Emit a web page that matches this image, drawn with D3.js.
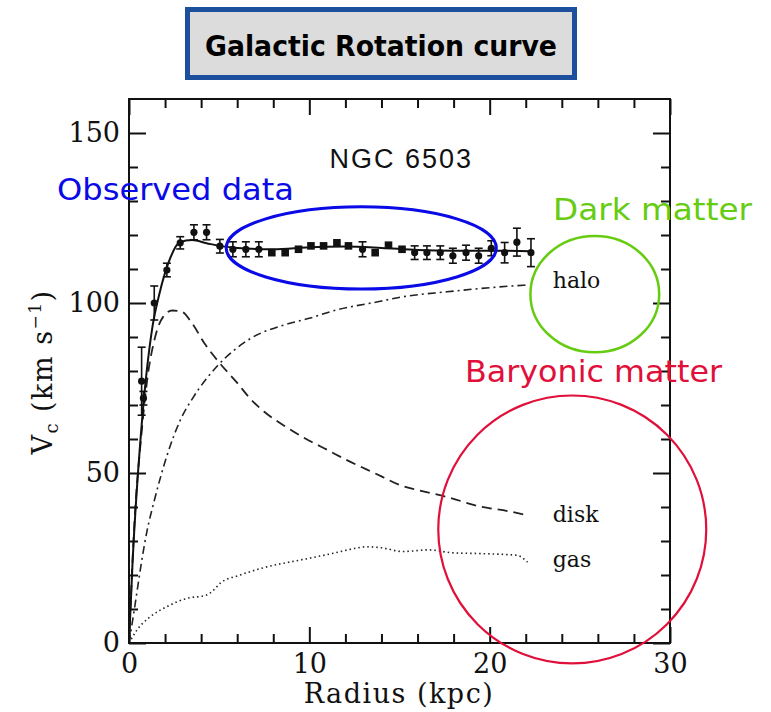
<html>
  <head>
    <meta charset="utf-8"/>
    <style>
      body { margin: 0; background: #fff; }
      .tick text { font-family: "DejaVu Serif", serif; font-size: 27px; fill: #111; }
      .tick line { stroke: #111; stroke-width: 2; }
      .note { font-family: "Comic Sans MS", "DejaVu Sans", sans-serif; }
    </style>
  </head>
  <body>
    <svg></svg>
  </body>
  <script src="https://d3js.org/d3.v7.min.js"></script>
  <script>
  // observed rotation curve (NGC 6503)
  var radius   = [0.7, 0.8, 1.4, 2.1, 2.84, 3.6, 4.3, 5.04, 5.76, 6.48, 7.2, 7.92, 8.66, 9.4, 10.09, 10.79, 11.53, 12.17, 12.95, 13.65, 14.39, 15.14, 15.84, 16.52, 17.26, 17.96, 18.69, 19.39, 20.09, 20.83, 21.51, 22.29];
  var velocity = [77, 72, 100, 109.7, 117.7, 120.8, 120.8, 116.7, 115.8, 115.8, 115.8, 114.8, 114.8, 115.8, 116.8, 116.8, 117.7, 116.8, 115.8, 114.8, 117, 115.8, 114.8, 114.8, 114.8, 113.9, 114.8, 113.9, 116.1, 114.8, 117.9, 114.8];
  var errors   = [10, 2, 5, 2, 1.8, 2.2, 2.2, 2, 2.2, 2.2, 2.2, 0, 0, 0, 0, 0, 0, 0, 2.2, 0, 0, 0, 2, 2, 2, 2.2, 2.2, 2.2, 2.2, 3, 4.1, 4.1];
  var symbols  = ["c","c","c","c","c","c","c","c","c","c","c","s","s","s","s","s","s","s","c","s","s","s","c","c","c","c","c","c","c","c","c","c"];

  // model curves [radius, velocity]
  var total = [[0,0],[0.2,24],[0.7,64],[1.3,93],[1.7,103],[2.2,112],[2.8,117.8],[3.5,118.5],[4.3,117.6],[5.0,116.8],[6,116.2],[8,115.8],[10,116.4],[12,116.6],[14,116.2],[16,115.6],[18,115.4],[20,115.4],[22.3,115.2]];
  var disk  = [[0,0],[0.3,35],[0.7,62],[1.0,77],[1.45,90],[1.9,96],[2.4,97.8],[2.9,97.5],[3.5,94],[4.2,88],[5,82.5],[6,76.5],[6.7,72],[7.5,68],[8.7,63.6],[10,59.5],[11,56.8],[12,54],[13.2,51],[14,49],[15,46.5],[16,45],[17.6,43],[19.5,40.1],[21,38.8],[21.9,37.8]];
  var halo  = [[0,0],[0.3,10],[0.67,23],[1.0,33],[1.36,41],[2.1,55],[2.84,65.5],[3.58,72.4],[4.87,81.3],[6.72,89.5],[8.57,93.5],[10,95.5],[11.34,97.7],[13.93,100.5],[15.04,101.7],[17.63,103.3],[20,104.5],[22.06,105.3]];
  var gas   = [[0,0],[0.44,3.8],[1.17,7.7],[2.1,10.7],[3.2,13.1],[4.3,14.1],[4.7,15.6],[5.06,17.6],[6.17,20],[7.65,22.4],[9.5,24.4],[11.34,26.4],[12.5,27.8],[13.2,28.3],[14,28],[15.2,26.9],[16.6,27.4],[18,26.5],[19.5,26.3],[21.5,25.8],[22.1,23.8]];

  var xMajor = [0, 10, 20, 30];
  var xMinor = [2, 4, 6, 8, 12, 14, 16, 18, 22, 24, 26, 28];
  var yMajor = [0, 50, 100, 150];
  var yMinor = [10, 20, 30, 40, 60, 70, 80, 90, 110, 120, 130, 140];

  var W = 771, H = 712;
  var svg = d3.select("svg").attr("width", W).attr("height", H);

  var x = d3.scaleLinear().domain([0, 30]).range([129, 670]);
  var y = d3.scaleLinear().domain([0, 160]).range([643, 99]);

  // title box
  svg.append("rect")
    .attr("x", 187.5).attr("y", 9.5).attr("width", 387).attr("height", 68)
    .attr("fill", "#dcdcdc").attr("stroke", "#1c4f9c").attr("stroke-width", 5);
  svg.append("text").attr("class", "note")
    .attr("x", 381).attr("y", 56).attr("text-anchor", "middle")
    .attr("font-size", 28).attr("font-weight", "bold")
    .attr("textLength", 352).attr("lengthAdjust", "spacingAndGlyphs")
    .text("Galactic Rotation curve");

  // axes (ticks pointing inward on all four sides)
  function ax(gen, tr, vals, len, labels) {
    var g = svg.append("g").attr("transform", tr)
      .call(gen.tickValues(vals).tickSize(-len).tickSizeOuter(0)
        .tickPadding(labels ? 11 : 0).tickFormat(labels ? d3.format("d") : ""));
    g.select(".domain").remove();
    return g;
  }
  ax(d3.axisBottom(x), "translate(0,643)", xMajor, 16, true);
  ax(d3.axisBottom(x), "translate(0,643)", xMinor, 9, false);
  ax(d3.axisTop(x), "translate(0,99)", xMajor, 16, false);
  ax(d3.axisTop(x), "translate(0,99)", xMinor, 9, false);
  var yl = ax(d3.axisLeft(y), "translate(129,0)", yMajor, 17, true);
  yl.selectAll("text").attr("dx", 2);
  ax(d3.axisLeft(y), "translate(129,0)", yMinor, 9, false);
  ax(d3.axisRight(y), "translate(670,0)", yMajor, 17, false);
  ax(d3.axisRight(y), "translate(670,0)", yMinor, 9, false);

  svg.append("rect")
    .attr("x", x(0)).attr("y", y(160))
    .attr("width", x(30) - x(0)).attr("height", y(0) - y(160))
    .attr("fill", "none").attr("stroke", "#111").attr("stroke-width", 2);

  // axis titles
  svg.append("text")
    .attr("x", 399).attr("y", 703).attr("text-anchor", "middle")
    .attr("font-family", "DejaVu Serif, serif").attr("font-size", 27)
    .attr("letter-spacing", 1.5).attr("fill", "#111")
    .text("Radius (kpc)");

  var yt = svg.append("text")
    .attr("transform", "translate(52,372) rotate(-90)")
    .attr("text-anchor", "middle")
    .attr("font-family", "DejaVu Serif, serif").attr("font-size", 27)
    .attr("letter-spacing", 1.5).attr("fill", "#111");
  yt.append("tspan").text("V");
  yt.append("tspan").attr("font-size", 18).attr("dy", 6).text("c");
  yt.append("tspan").attr("dy", -6).text(" (km s");
  yt.append("tspan").attr("font-size", 17).attr("dy", -11).text("\u22121");
  yt.append("tspan").attr("dy", 11).text(")");

  // model curves
  var line = d3.line().x(function(d){ return x(d[0]); }).y(function(d){ return y(d[1]); })
    .curve(d3.curveMonotoneX);

  svg.append("path").datum(gas).attr("d", line)
    .attr("fill", "none").attr("stroke", "#222").attr("stroke-width", 1.6)
    .attr("stroke-dasharray", "1.5,3");
  svg.append("path").datum(disk).attr("d", line)
    .attr("fill", "none").attr("stroke", "#222").attr("stroke-width", 1.8)
    .attr("stroke-dasharray", "10,6");
  svg.append("path").datum(halo).attr("d", line)
    .attr("fill", "none").attr("stroke", "#222").attr("stroke-width", 1.6)
    .attr("stroke-dasharray", "8,4,2,4");
  svg.append("path").datum(total).attr("d", line)
    .attr("fill", "none").attr("stroke", "#111").attr("stroke-width", 2);

  // observed points with error bars
  var pts = radius.map(function(r, i){ return {r: r, v: velocity[i], e: errors[i], s: symbols[i]}; });
  var eb = svg.append("g").attr("stroke", "#111").attr("stroke-width", 1.6);
  pts.filter(function(d){ return d.e > 0; }).forEach(function(d){
    var cx = x(d.r), y0 = y(d.v - d.e), y1 = y(d.v + d.e);
    eb.append("line").attr("x1", cx).attr("x2", cx).attr("y1", y0).attr("y2", y1);
    eb.append("line").attr("x1", cx - 4).attr("x2", cx + 4).attr("y1", y0).attr("y2", y0);
    eb.append("line").attr("x1", cx - 4).attr("x2", cx + 4).attr("y1", y1).attr("y2", y1);
  });
  svg.append("g").selectAll("circle")
    .data(pts.filter(function(d){ return d.s === "c"; }))
    .enter().append("circle")
    .attr("cx", function(d){ return x(d.r); }).attr("cy", function(d){ return y(d.v); })
    .attr("r", 3.6).attr("fill", "#111");
  svg.append("g").selectAll("rect")
    .data(pts.filter(function(d){ return d.s === "s"; }))
    .enter().append("rect")
    .attr("x", function(d){ return x(d.r) - 3.8; }).attr("y", function(d){ return y(d.v) - 3.8; })
    .attr("width", 7.6).attr("height", 7.6).attr("fill", "#111");

  // in-plot labels
  svg.append("text")
    .attr("x", x(15.1)).attr("y", y(139.6)).attr("text-anchor", "middle")
    .attr("font-family", "Liberation Sans, Arial, sans-serif").attr("font-size", 27)
    .attr("letter-spacing", 2).attr("fill", "#111").text("NGC 6503");
  var curveLabels = [["halo", 104.5], ["disk", 35.5], ["gas", 22.5]];
  curveLabels.forEach(function(c){
    svg.append("text")
      .attr("x", x(23.5)).attr("y", y(c[1]))
      .attr("font-family", "DejaVu Serif, serif").attr("font-size", 22)
      .attr("fill", "#111").text(c[0]);
  });

  // annotations
  function ellipse(cr, cv, rr, rv, col, w) {
    svg.append("ellipse")
      .attr("cx", x(cr)).attr("cy", y(cv))
      .attr("rx", x(rr) - x(0)).attr("ry", y(0) - y(rv))
      .attr("fill", "none").attr("stroke", col).attr("stroke-width", w);
  }
  ellipse(12.88, 116.2, 7.49, 12.1, "#0a0ae6", 3);
  ellipse(25.83, 102.6, 3.57, 17.1, "#66cc11", 2.5);
  ellipse(24.58, 33.4, 7.43, 39.4, "#e0103a", 2.2);

  function note(txt, px, py, len, col) {
    svg.append("text").attr("class", "note")
      .attr("x", px).attr("y", py).attr("font-size", 31)
      .attr("textLength", len).attr("lengthAdjust", "spacingAndGlyphs")
      .attr("fill", col).text(txt);
  }
  note("Observed data", 57, 200, 237, "#0a0ae6");
  note("Dark matter", 553, 220, 199, "#66cc11");
  note("Baryonic matter", 465, 382, 257, "#e0103a");
  </script>
</html>
